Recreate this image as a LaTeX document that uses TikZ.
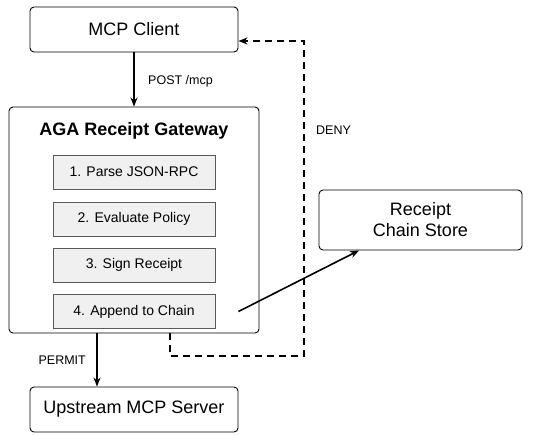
\documentclass[tikz,border=0pt]{standalone}
\usepackage{fontspec}
\setmainfont{Liberation Sans}
\usetikzlibrary{positioning, calc, arrows.meta}

\begin{document}
\begin{tikzpicture}[x=1pt, y=-1pt, >={Stealth[length=9pt,width=7pt,inset=3pt]},
    box/.style={draw, line width=0.9pt, rounded corners=4pt, inner sep=0pt, font=\fontsize{18}{21}\selectfont, align=center},
    stepbox/.style={draw=black!65, fill=black!6, line width=0.9pt, inner sep=0pt, minimum width=162pt, minimum height=34pt, font=\fontsize{14}{16}\selectfont},
    flow/.style={->, line width=1.6pt},
    lbl/.style={inner sep=0pt, font=\fontsize{12.5}{14}\selectfont}]

    \useasboundingbox (0,0) rectangle (537,434);

    % --- Client and server ---
    \node[box, minimum width=208pt, minimum height=45pt] (client) at (134,29.5) {MCP Client};
    \node[box, minimum width=208pt, minimum height=45pt] (server) at (134,409.5) {Upstream MCP Server};

    % --- Gateway with its four steps ---
    \node[box, minimum width=250pt, minimum height=226pt] (gateway) at (134,220) {};
    \node[font=\fontsize{18}{21}\selectfont\bfseries, inner sep=0pt] (title) at (134,131) {AGA Receipt Gateway};
    \node[stepbox] (step1) at (134,172) {1. Parse JSON-RPC};
    \node[stepbox] (step2) at (134,219) {2. Evaluate Policy};
    \node[stepbox] (step3) at (134,265) {3. Sign Receipt};
    \node[stepbox] (step4) at (134,311.5) {4. Append to Chain};

    % --- Receipt store ---
    \node[box, minimum width=203pt, minimum height=60pt] (store) at (420.5,220) {Receipt\\Chain Store};

    % --- Request and permit ---
    \draw[flow] (client) -- (gateway);
    \node[lbl, anchor=west] (post) at (148,81) {POST /mcp};
    \draw[flow] (gateway.south -| 97,0) -- (server.north -| 97,0);
    \node[lbl, anchor=east] (permit) at (86,360) {PERMIT};

    % --- Append to the store ---
    \coordinate (tail) at ([xshift=23pt]step4.east);
    \draw[flow] (tail) -- (store.south -| 359,0);

    % --- Deny path back to the client ---
    \coordinate (turn1) at (170,356);
    \coordinate (turn2) at (304,356);
    \coordinate (turn3) at (304,41);
    \draw[->, line width=1.6pt, dash pattern=on 7pt off 5pt]
        (gateway.south -| turn1) -- (turn1) -- (turn2) -- (turn3) -- (client.east |- turn3);
    \node[lbl, anchor=west] (deny) at (316,130) {DENY};

\end{tikzpicture}
\end{document}
